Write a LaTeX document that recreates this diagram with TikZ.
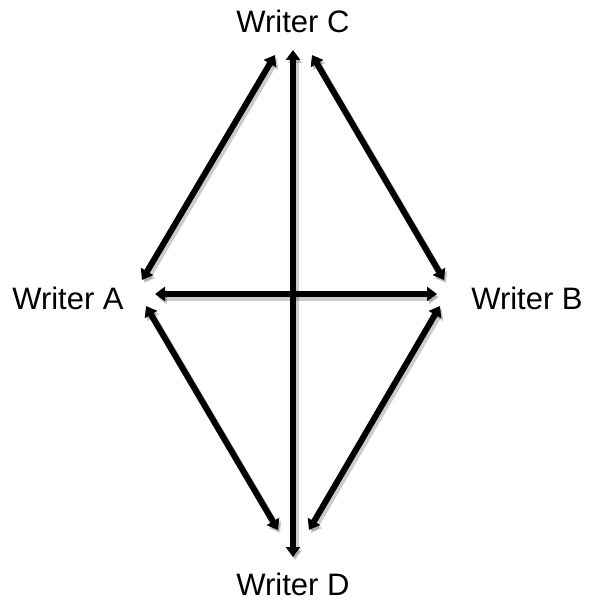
\documentclass[tikz,border=0pt]{standalone}
\usepackage{fontspec}
\setmainfont{Liberation Sans}
\usetikzlibrary{arrows.meta,calc,positioning}
\definecolor{ink}{HTML}{000000}
\definecolor{shade}{HTML}{9A9A9A}

\begin{document}
\begin{tikzpicture}[x=1pt,y=-1pt,
    writer/.style={font=\fontsize{31}{37}\selectfont,text=ink,inner sep=0pt},
    link/.style={line width=6pt,ink,{Triangle[length=10pt,width=14pt]}-{Triangle[length=10pt,width=14pt]}},
    linkshade/.style={line width=7pt,shade,opacity=0.2,{Triangle[length=10pt,width=14pt]}-{Triangle[length=10pt,width=14pt]}}]
        \useasboundingbox (0,0) rectangle (590,610);
        \node[writer] (wc) at (293,21) {Writer C};
        \node[writer] (wa) at (68,298) {Writer A};
        \node[writer] (wb) at (527,298) {Writer B};
        \node[writer] (wd) at (293,584) {Writer D};
        % arrow ends
        \coordinate (cT) at (293,50);  \coordinate (dB) at (293,557);
        \coordinate (cL) at (275,55);  \coordinate (cR) at (312,55);
        \coordinate (aU) at (142,280); \coordinate (bU) at (444,280);
        \coordinate (aR) at (155,294); \coordinate (bL) at (437,294);
        \coordinate (aD) at (146,306); \coordinate (bD) at (440,306);
        \coordinate (dL) at (278,530); \coordinate (dR) at (309,530);
        \foreach \p/\q in {cT/dB,aR/bL,cL/aU,cR/bU,aD/dL,bD/dR}{
          \draw[linkshade] ($(\p)+(2,3)$) -- ($(\q)+(2,3)$);
          \draw[link] (\p) -- (\q);}
      \end{tikzpicture}
\end{document}
